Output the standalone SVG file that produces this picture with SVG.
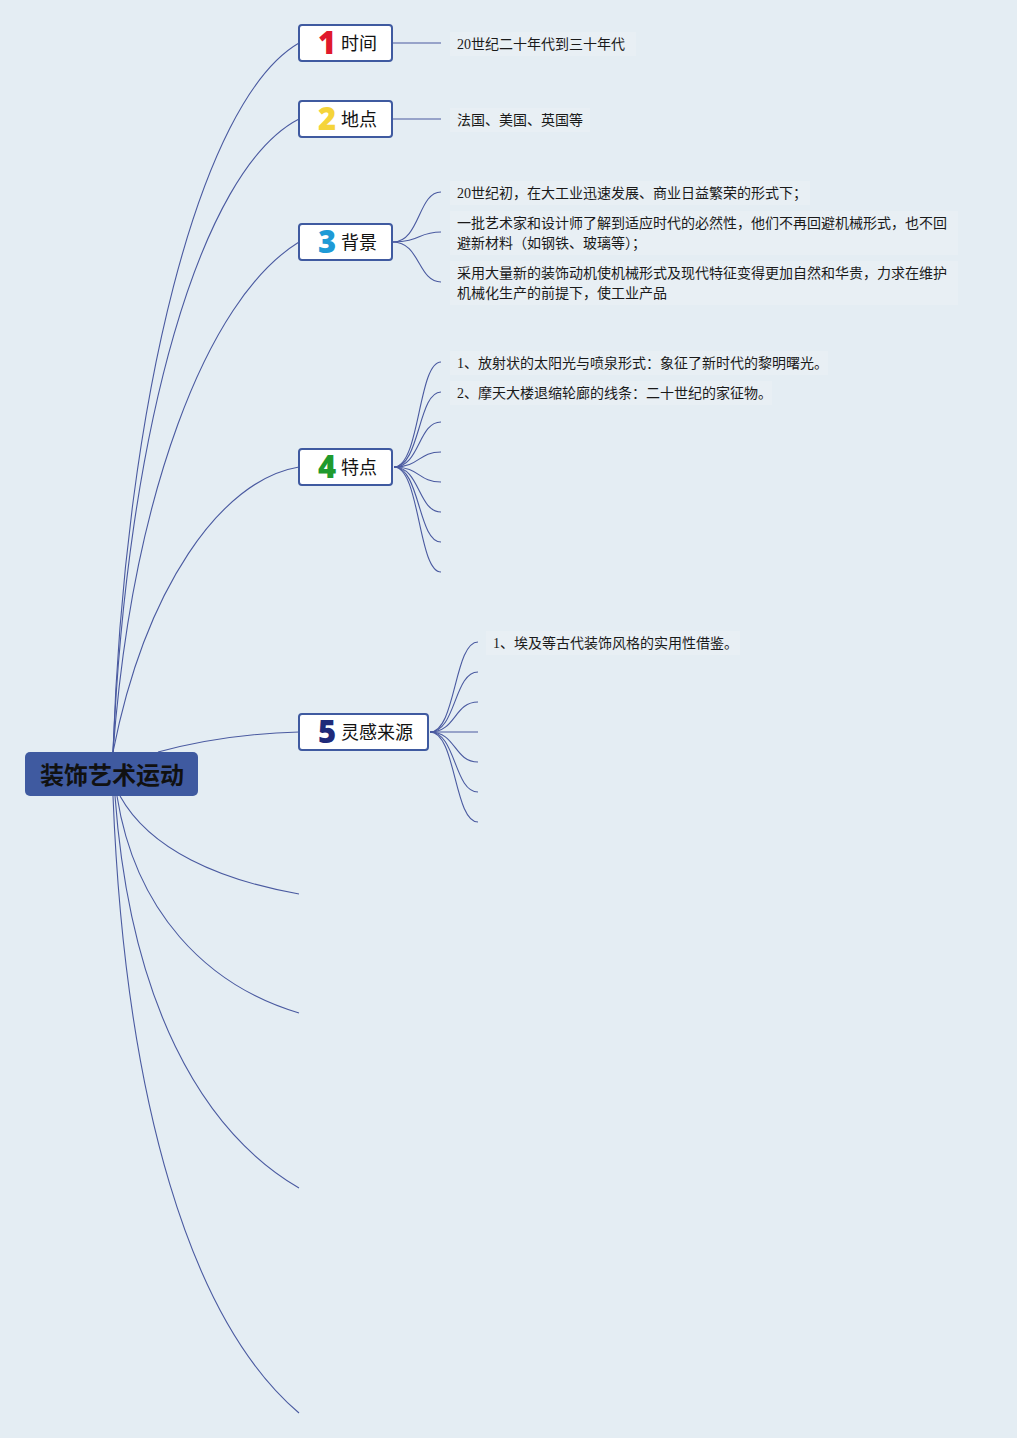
<svg xmlns="http://www.w3.org/2000/svg" width="1017" height="1438" viewBox="0 0 1017 1438">
<style>
.bg{fill:#e4edf3}
.node{fill:#ffffff;stroke:#3f5aa0;stroke-width:2}
.root{fill:#3f5aa0}
.lbl{font-family:"Noto Sans CJK SC","Noto Sans",sans-serif;font-size:18px;fill:#111}
.num{font-family:"Open Sans","Noto Sans",sans-serif;font-size:31px;font-weight:800;text-anchor:middle}
.leaf{font-family:"Liberation Serif","Noto Sans CJK SC",serif;font-size:14px;fill:#1a1a1a}
.tb{fill:#e8eff4}
.c{fill:none;stroke:#4a5aa0;stroke-width:1.1}
</style>
<rect class="bg" x="0" y="0" width="1017" height="1438"/>
<g id="connectors">
<path class="c" d="M113 752 C125 400, 200 100, 299 43"/>
<path class="c" d="M113 752 C127 430, 200 170, 299 119"/>
<path class="c" d="M113 752 C132 500, 205 300, 299 242"/>
<path class="c" d="M113 752 C145 590, 220 480, 299 467"/>
<path class="c" d="M158 752 C210 738, 260 733, 299 732"/>
<path class="c" d="M120 796 C150 850, 220 880, 299 894"/>
<path class="c" d="M117 796 C135 910, 205 985, 299 1013"/>
<path class="c" d="M115 796 C130 1000, 200 1130, 299 1188"/>
<path class="c" d="M113 796 C125 1100, 190 1320, 299 1413"/>
<path class="c" d="M393 43 L441 43"/>
<path class="c" d="M393 119 L441 119"/>
<path class="c" d="M393 242 C420 242, 418 192, 441 192"/>
<path class="c" d="M393 242 C420 242, 418 232, 441 232"/>
<path class="c" d="M393 242 C420 242, 418 282, 441 282"/>
<path class="c" d="M394 467 C420 467, 418 362, 441 362"/>
<path class="c" d="M394 467 C420 467, 418 392, 441 392"/>
<path class="c" d="M394 467 C420 467, 418 422, 441 422"/>
<path class="c" d="M394 467 C420 467, 418 452, 441 452"/>
<path class="c" d="M394 467 C420 467, 418 482, 441 482"/>
<path class="c" d="M394 467 C420 467, 418 512, 441 512"/>
<path class="c" d="M394 467 C420 467, 418 542, 441 542"/>
<path class="c" d="M394 467 C420 467, 418 572, 441 572"/>
<path class="c" d="M430 732 C456 732, 454 642, 478 642"/>
<path class="c" d="M430 732 C456 732, 454 672, 478 672"/>
<path class="c" d="M430 732 C456 732, 454 702, 478 702"/>
<path class="c" d="M430 732 L478 732"/>
<path class="c" d="M430 732 C456 732, 454 762, 478 762"/>
<path class="c" d="M430 732 C456 732, 454 792, 478 792"/>
<path class="c" d="M430 732 C456 732, 454 822, 478 822"/>
</g>
<g id="root">
<rect class="root" x="25" y="752" width="173" height="44" rx="5"/>
<text x="112" y="784" text-anchor="middle" style="font-family:'Noto Sans CJK SC','Noto Sans',sans-serif;font-size:24px;font-weight:bold;fill:#111">装饰艺术运动</text>
</g>
<g id="n1">
<rect class="node" x="299" y="25" width="93" height="36" rx="3"/>
<text class="num" x="327" y="54" fill="#e0192c">1</text>
<text class="lbl" x="341" y="50">时间</text>
</g>
<g id="n2">
<rect class="node" x="299" y="101" width="93" height="36" rx="3"/>
<text class="num" x="327" y="130" fill="#f5d43a">2</text>
<text class="lbl" x="341" y="126">地点</text>
</g>
<g id="n3">
<rect class="node" x="299" y="224" width="93" height="36" rx="3"/>
<text class="num" x="327" y="253" fill="#1e9ad6">3</text>
<text class="lbl" x="341" y="249">背景</text>
</g>
<g id="n4">
<rect class="node" x="299" y="449" width="93" height="36" rx="3"/>
<text class="num" x="327" y="478" fill="#1f9a2e">4</text>
<text class="lbl" x="341" y="474">特点</text>
</g>
<g id="n5">
<rect class="node" x="299" y="714" width="129" height="36" rx="3"/>
<text class="num" x="327" y="743" fill="#1f2a7a">5</text>
<text class="lbl" x="341" y="739">灵感来源</text>
</g>
<g id="leaf1">
<rect class="tb" x="450" y="32" width="186" height="24"/>
<text class="leaf" x="457" y="49">20世纪二十年代到三十年代</text>
</g>
<g id="leaf2">
<rect class="tb" x="450" y="108" width="140" height="24"/>
<text class="leaf" x="457" y="125">法国、美国、英国等</text>
</g>
<g id="leaf3a">
<rect class="tb" x="450" y="181" width="360" height="24"/>
<text class="leaf" x="457" y="198">20世纪初，在大工业迅速发展、商业日益繁荣的形式下；</text>
</g>
<g id="leaf3b">
<rect class="tb" x="450" y="211" width="508" height="44"/>
<text class="leaf" x="457" y="228">一批艺术家和设计师了解到适应时代的必然性，他们不再回避机械形式，也不回</text>
<text class="leaf" x="457" y="248">避新材料（如钢铁、玻璃等）；</text>
</g>
<g id="leaf3c">
<rect class="tb" x="450" y="261" width="508" height="44"/>
<text class="leaf" x="457" y="278">采用大量新的装饰动机使机械形式及现代特征变得更加自然和华贵，力求在维护</text>
<text class="leaf" x="457" y="298">机械化生产的前提下，使工业产品</text>
</g>
<g id="leaf4a">
<rect class="tb" x="450" y="351" width="378" height="24"/>
<text class="leaf" x="457" y="368">1、放射状的太阳光与喷泉形式：象征了新时代的黎明曙光。</text>
</g>
<g id="leaf4b">
<rect class="tb" x="450" y="381" width="322" height="24"/>
<text class="leaf" x="457" y="398">2、摩天大楼退缩轮廊的线条：二十世纪的家征物。</text>
</g>
<g id="leaf5a">
<rect class="tb" x="486" y="631" width="254" height="24"/>
<text class="leaf" x="493" y="648">1、埃及等古代装饰风格的实用性借鉴。</text>
</g>
</svg>
